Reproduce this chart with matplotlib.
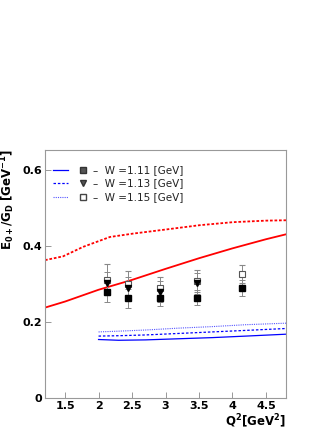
import matplotlib.pyplot as plt
import numpy as np

# model curves
q2_red = [1.2, 1.5, 2.0, 2.5, 3.0, 3.5, 4.0, 4.5, 4.8]
red_solid = [0.238, 0.254, 0.285, 0.311, 0.340, 0.368, 0.394, 0.418, 0.431]
q2_red_dot = [1.2, 1.47, 1.77, 2.17, 2.52, 3.02, 3.51, 4.01, 4.5, 4.8]
red_dot = [0.363, 0.373, 0.398, 0.424, 0.433, 0.444, 0.455, 0.463, 0.467, 0.468]

q2_blue = [2.0, 2.3, 2.7, 3.2, 3.7, 4.2, 4.8]
blue_111 = [0.154, 0.152, 0.153, 0.156, 0.159, 0.163, 0.168]
blue_113 = [0.163, 0.164, 0.166, 0.170, 0.174, 0.178, 0.183]
blue_115 = [0.174, 0.176, 0.179, 0.184, 0.188, 0.193, 0.197]

# data points
q2_pts = [2.12, 2.44, 2.92, 3.47, 4.15]
w111 = [0.278, 0.263, 0.263, 0.264, 0.289]
w111_err = [0.025, 0.025, 0.02, 0.02, 0.021]
q2_tri = [2.12, 2.44, 2.92, 3.47]
w113 = [0.302, 0.289, 0.280, 0.302]
w113_err = [0.03, 0.03, 0.028, 0.028]
w115 = [0.312, 0.299, 0.289, 0.308, 0.326]
w115_err = [0.04, 0.035, 0.03, 0.03, 0.024]

fig = plt.figure(figsize=(3.34, 4.32), dpi=100)
ax = fig.add_axes([45/334, 1 - 398/432, 241/334, 248/432])

ax.plot(q2_red, red_solid, color='red', lw=1.3)
ax.plot(q2_red_dot, red_dot, color='red', lw=1.3, ls=(0, (1.5, 1)))
ax.plot(q2_blue, blue_111, color='blue', lw=0.9)
ax.plot(q2_blue, blue_113, color='blue', lw=0.9, ls=(0, (2, 1.5)))
ax.plot(q2_blue, blue_115, color='#5555ff', lw=0.8, ls=(0, (1, 1)))

ekw = dict(ls='none', ecolor='#888888', elinewidth=0.7, capsize=2, capthick=0.7)
ax.errorbar(q2_pts, w115, yerr=w115_err, marker='s', ms=5, mfc='white', mec='#555555', mew=0.8, **ekw)
ax.errorbar(q2_tri, w113, yerr=w113_err, marker='v', ms=5, mfc='black', mec='black', **ekw)
ax.errorbar(q2_pts, w111, yerr=w111_err, marker='s', ms=5, mfc='black', mec='black', **ekw)

ax.set_xlim(1.2, 4.8)
ax.set_ylim(0, 0.653)
ax.set_xticks([1.5, 2, 2.5, 3, 3.5, 4, 4.5])
ax.set_xticklabels(['1.5', '2', '2.5', '3', '3.5', '4', '4.5'])
ax.set_yticks([0, 0.2, 0.4, 0.6])
ax.set_yticklabels(['0', '0.2', '0.4', '0.6'])
ax.tick_params(direction='in', length=4, width=0.6, color='#888888', labelsize=8, pad=2)
for lab in ax.get_xticklabels() + ax.get_yticklabels():
    lab.set_fontweight('bold')
for s in ax.spines.values():
    s.set_color('#999999')
    s.set_linewidth(0.8)

ax.set_ylabel(r'$\mathbf{E_{0+}/G_D\ [GeV^{-1}]}$', fontsize=8.5)
ax.yaxis.set_label_coords(-0.115, 0.8)
ax.text(1.0, -0.112, r'$\mathbf{Q^2[GeV^2]}$', transform=ax.transAxes, ha='right', va='baseline', fontsize=8.5)

# legend
leg_y = [0.6, 0.565, 0.53]
labels = ['W =1.11 [GeV]', 'W =1.13 [GeV]', 'W =1.15 [GeV]']
styles = [dict(color='blue', lw=0.9), dict(color='blue', lw=0.9, ls=(0, (2, 1.5))),
          dict(color='#5555ff', lw=0.8, ls=(0, (1, 1)))]
markers = [dict(marker='s', mfc='#555555', mec='#333333'), dict(marker='v', mfc='#555555', mec='#333333'),
           dict(marker='s', mfc='white', mec='#444444')]
for y, lab, st, mk in zip(leg_y, labels, styles, markers):
    ax.plot([1.32, 1.55], [y, y], **st)
    ax.plot([1.77], [y], ms=5, ls='none', **mk)
    ax.text(1.92, y, '\u2013  ' + lab, fontsize=7.5, va='center', color='#222222')

fig.savefig('out.png', dpi=100)
